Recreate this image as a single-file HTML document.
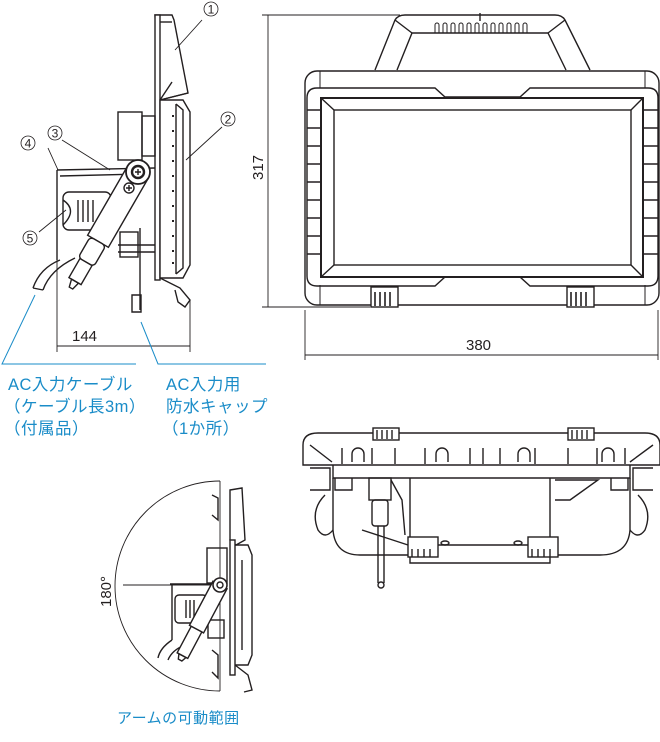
<!DOCTYPE html>
<html><head><meta charset="utf-8"><style>
body{margin:0;background:#fff}
svg{display:block}
.t{font-family:"Liberation Sans","Noto Sans CJK JP",sans-serif}
</style></head><body>
<svg width="660" height="742" viewBox="0 0 660 742" xmlns="http://www.w3.org/2000/svg" fill="none" stroke="#231f20" stroke-width="1.4">
<!-- SIDE VIEW -->
<g>
<path d="M155 15 L172 15 L174 20 L188 93 L160 100 Z" fill="#fff"/>
<path d="M160 22 L172 22"/>
<path d="M172 82 L160 100 M188 93 L160 100"/>
<rect x="155" y="15" width="5" height="265" fill="#fff"/>
<path d="M160 100 L183 100 L190 112 L190 265 L183 278 L160 278 Z" fill="#fff"/>
<path d="M176 104 L183 110 L183 268 L176 274 M176 104 L176 274"/>
<g stroke-width="2"><path d="M173 115v2M173 130v2M173 145v2M173 160v2M173 175v2M173 190v2M173 205v2M173 220v2M173 235v2M173 250v2M173 262v2"/></g>
<path d="M160 278 L180 288 L190 300 L185 307 L178 302 L175 290"/>
<rect x="118" y="112" width="24" height="48" fill="#fff"/>
<rect x="142" y="116" width="13" height="40"/>
<path d="M57 170 L57 260 M57 170 L155 168 M60 176 L140 174"/>
<rect x="63" y="192" width="48" height="38" rx="6"/>
<path d="M78 200v22M83 200v22M88 200v22M93 200v22"/>
<path d="M63 200 Q78 210 63 225"/>
<path d="M118 245 L155 245 M118 252 L155 252"/>
<rect x="120" y="232" width="18" height="25"/>
<path d="M140 228 L140 310 M132 295 L132 312 L141 312 L141 295 Z"/>
<path d="M60 260 Q40 268 33 288 M43 290 Q50 270 75 258 M33 288 L43 290"/>
<g transform="rotate(30 138 172)">
<rect x="126" y="172" width="24" height="80" fill="#fff"/>
<rect x="129" y="252" width="18" height="24" rx="4" fill="#fff"/>
<rect x="131" y="276" width="14" height="22" fill="#fff"/>
<path d="M134 298 L142 298 L140 306 L136 306 Z"/>
</g>
<circle cx="138" cy="172" r="12" fill="#fff" stroke-width="1.8"/>
<circle cx="138" cy="172" r="6" stroke-width="2.4"/>
<path d="M135 172h6M138 169v6"/>
<circle cx="129" cy="188" r="5"/>
<path d="M126 188h6M129 185v6"/>
<path d="M202 20 L175 50 M222 127 L186 160 M48 148 L58 170 M62 140 L110 170 M39 232 L66 210" stroke-width="0.9"/>
<g class="t" fill="#231f20" stroke="none" font-size="12" text-anchor="middle">
<circle cx="211" cy="9" r="7" fill="none" stroke="#231f20" stroke-width="0.8"/><text x="211" y="13.5">1</text>
<circle cx="228" cy="119" r="7" fill="none" stroke="#231f20" stroke-width="0.8"/><text x="228" y="123.5">2</text>
<circle cx="55" cy="133" r="7" fill="none" stroke="#231f20" stroke-width="0.8"/><text x="55" y="137.5">3</text>
<circle cx="28" cy="143" r="7" fill="none" stroke="#231f20" stroke-width="0.8"/><text x="28" y="147.5">4</text>
<circle cx="30" cy="238" r="7" fill="none" stroke="#231f20" stroke-width="0.8"/><text x="30" y="242.5">5</text>
</g>
<path d="M57 260 L57 352 M190 300 L190 352 M57 346 L190 346" stroke-width="0.9"/>
<text class="t" x="72" y="341" font-size="15" fill="#231f20" stroke="none">144</text>
<path d="M35 295 L2 364 L136 364 M141 322 L158 364 L266 364" stroke="#1a8cc8" stroke-width="1"/>
</g>
<g class="t" font-size="16.5" fill="#1a8cc8" stroke="none" letter-spacing="0.5">
<text x="8" y="390">AC入力ケーブル</text>
<text x="4" y="412">（ケーブル長3m）</text>
<text x="4" y="434">（付属品）</text>
<text x="166" y="390">AC入力用</text>
<text x="166" y="412">防水キャップ</text>
<text x="162" y="434">（1か所）</text>
<text x="117" y="723" font-size="15">アームの可動範囲</text>
</g>
<!-- FRONT VIEW -->
<g>
<path d="M375 70 L395 20 Q398 15 405 15 L555 15 Q562 15 565 20 L590 70" fill="#fff"/>
<path d="M397 70 L412 33 L548 33 L566 70"/>
<path d="M395 20 L412 33 M565 20 L548 33"/>
<path d="M480 13v8"/>
<path d="M435 33v-8a2 2 0 0 1 4 0v8M443 33v-8a2 2 0 0 1 4 0v8M451 33v-8a2 2 0 0 1 4 0v8M459 33v-8a2 2 0 0 1 4 0v8M467 33v-8a2 2 0 0 1 4 0v8M475 33v-8a2 2 0 0 1 4 0v8M483 33v-8a2 2 0 0 1 4 0v8M491 33v-8a2 2 0 0 1 4 0v8M499 33v-8a2 2 0 0 1 4 0v8M507 33v-8a2 2 0 0 1 4 0v8M515 33v-8a2 2 0 0 1 4 0v8M523 33v-8a2 2 0 0 1 4 0v8" stroke-width="1"/>
<rect x="305" y="71" width="354" height="234" rx="12" fill="#fff"/>
<path d="M320 71v17M645 71v17M320 285v20M645 285v20" stroke-width="1"/>
<path d="M317 88 L435 88 L445 97 L520 97 L530 88 L648 88 Q658 88 658 98 L658 276 Q658 286 648 286 L530 286 L520 277 L445 277 L435 286 L317 286 Q307 286 307 276 L307 98 Q307 88 317 88 Z"/>
<rect x="321" y="98" width="322" height="179" stroke-width="2"/>
<rect x="334" y="110" width="297" height="155"/>
<path d="M321 98 L334 110 M643 98 L631 110 M321 277 L334 265 M643 277 L631 265"/>
<g stroke-width="1.4"><path d="M307 110h14M307 128h14M307 146h14M307 164h14M307 182h14M307 200h14M307 218h14M307 236h14M307 254h14M643 110h15M643 128h15M643 146h15M643 164h15M643 182h15M643 200h15M643 218h15M643 236h15M643 254h15"/></g>
<rect x="371" y="287" width="27" height="20" fill="#fff"/><path d="M375 292v14M380 292v14M385 292v14M390 292v14" stroke-width="1.6"/>
<rect x="567" y="287" width="27" height="20" fill="#fff"/><path d="M571 292v14M576 292v14M581 292v14M586 292v14" stroke-width="1.6"/>
<path d="M268 15 L268 307 M262 15 L400 15 M262 307 L370 307 M305 310 L305 360 M658 310 L658 360 M305 355 L658 355" stroke-width="0.9"/>
<text class="t" x="0" y="0" font-size="15" fill="#231f20" stroke="none" transform="translate(263 180) rotate(-90)">317</text>
<text class="t" x="466" y="350" font-size="15" fill="#231f20" stroke="none">380</text>
</g>
<!-- BOTTOM VIEW -->
<g>
<path d="M303 465 L303 445 Q303 433 318 433 L645 433 Q660 433 660 445 L660 465 Z" fill="#fff"/>
<path d="M310 445 L332 462 M653 445 L630 462 M333 465 L333 478 L630 478 L630 465"/>
<rect x="373" y="428" width="26" height="12" fill="#fff"/><path d="M377 430v9M382 430v9M387 430v9M392 430v9"/>
<rect x="568" y="428" width="26" height="12" fill="#fff"/><path d="M572 430v9M577 430v9M582 430v9M587 430v9"/>
<path d="M342 448v16M372 448v16M395 448v16M425 448v16M470 448v16M483 448v16M500 448v16M535 448v16M568 448v16M597 448v16M625 448v16"/>
<path d="M352 462v-8a6 6 0 0 1 12 0v8M436 462v-8a6 6 0 0 1 12 0v8M518 462v-8a6 6 0 0 1 12 0v8M602 462v-8a6 6 0 0 1 12 0v8"/>
<path d="M333 478 L333 530 Q335 555 360 555 L410 555 L410 563 L550 563 L550 555 L600 555 Q628 555 630 530 L630 478"/>
<path d="M310 468 L330 468 L330 490 L310 490 M653 468 L633 468 L633 490 L653 490"/>
<path d="M325 495 Q310 510 318 530 Q325 540 333 530 M638 495 Q653 510 645 530 Q638 540 630 530"/>
<path d="M335 478 L335 490 L352 490 L352 478 M628 478 L628 490 L611 490 L611 478"/>
<rect x="369" y="478" width="22" height="22"/>
<rect x="372" y="500" width="16" height="26" rx="3"/>
<path d="M391 480 L402 500 L405 535"/>
<path d="M410 478 L410 550 M550 478 L550 550 M410 545 L550 545 M362 530 L408 545"/>
<rect x="408" y="537" width="30" height="20" fill="#fff"/><path d="M412 549v8M418 549v8M424 549v8M430 549v8"/>
<rect x="528" y="537" width="30" height="20" fill="#fff"/><path d="M532 549v8M538 549v8M544 549v8M550 549v8"/>
<path d="M555 480 L598 480 L570 500 L555 500"/>
<path d="M378 526 L378 583 M384 526 L384 583"/>
<circle cx="381" cy="585" r="3"/>
<ellipse cx="445" cy="543" rx="4" ry="2"/><ellipse cx="518" cy="543" rx="4" ry="2"/>
</g>
<!-- ROTATION VIEW -->
<g>
<path d="M220 481 A105 105 0 0 0 220 691" stroke-width="0.9"/>
<path d="M220 481 L220 691 M123 585 L212 585" stroke-width="0.9"/>
<text class="t" font-size="15" fill="#231f20" stroke="none" transform="translate(111 607) rotate(-90)">180°</text>
<path d="M230 490 L242 488 L245 540 L236 545 L230 540 Z" fill="#fff"/>
<rect x="230" y="540" width="5" height="135" fill="#fff"/>
<path d="M235 545 L248 545 L252 555 L252 655 L248 665 L235 665"/>
<path d="M242 560v90"/>
<path d="M235 665 L248 675 L252 690 L244 692"/>
<rect x="207" y="548" width="20" height="35"/>
<path d="M170 584 L225 584 M172 584 L172 640"/>
<rect x="175" y="595" width="32" height="28" rx="4"/>
<path d="M186 600v18M190 600v18M194 600v18"/>
<path d="M172 640 Q160 648 158 658 M168 660 Q172 650 185 645"/>
<rect x="208" y="620" width="16" height="18"/>
<g transform="rotate(28 220 585)"><rect x="212" y="585" width="16" height="50" fill="#fff"/><rect x="214" y="635" width="12" height="30" fill="#fff"/><path d="M216 665 L224 665 L222 670 L218 670Z"/></g>
<circle cx="220" cy="585" r="7" fill="#fff" stroke-width="1.6"/><circle cx="220" cy="585" r="3"/>
<path d="M212 495 L218 498 L218 520 L212 515 M212 650 L218 655 L218 678 L212 672"/>
</g>
</svg>
</body></html>
